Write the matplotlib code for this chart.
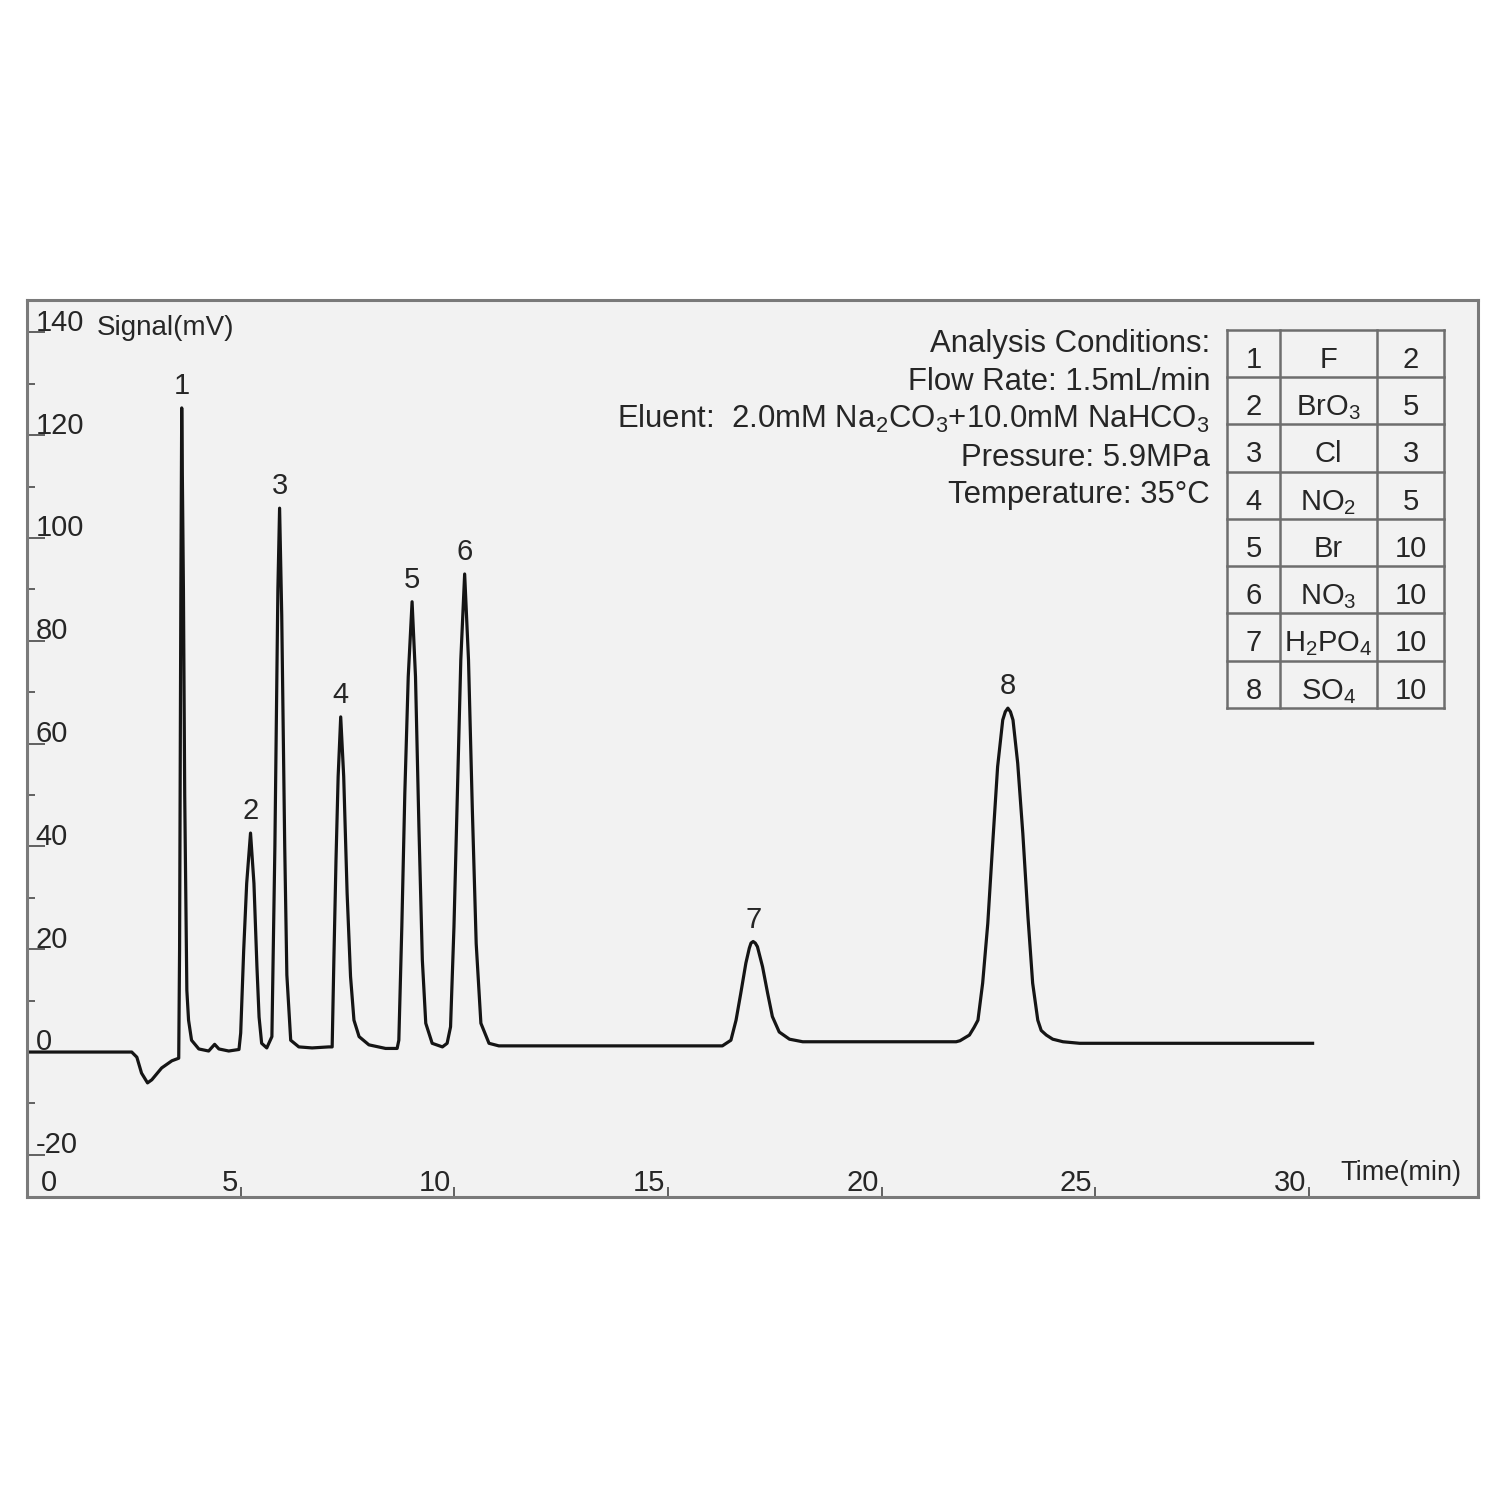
import matplotlib
matplotlib.use('Agg')
import matplotlib.pyplot as plt
from matplotlib import transforms

plt.rcParams['font.family'] = ['Liberation Sans', 'DejaVu Sans']
plt.rcParams['mathtext.fontset'] = 'custom'
plt.rcParams['mathtext.rm'] = 'Liberation Sans'
plt.rcParams['mathtext.it'] = 'Liberation Sans:italic'
plt.rcParams['mathtext.bf'] = 'Liberation Sans:bold'

# chromatogram trace (time in min, signal in mV)
time_min = [0.00, 2.45, 2.57, 2.68, 2.82, 2.92, 3.15, 3.39, 3.55,
            3.57, 3.60, 3.62, 3.66, 3.69, 3.74, 3.78, 3.85, 4.02, 4.25, 4.39, 4.49, 4.72, 4.96,
            5.00, 5.07, 5.14, 5.23, 5.31, 5.38, 5.43, 5.49, 5.61,
            5.73, 5.80, 5.87, 5.91, 5.96, 6.03, 6.08, 6.17, 6.36, 6.67, 7.06,
            7.14, 7.18, 7.23, 7.28, 7.34, 7.41, 7.49, 7.57, 7.65, 7.77, 8.00, 8.39, 8.66,
            8.70, 8.77, 8.84, 8.92, 9.01, 9.09, 9.17, 9.25, 9.33, 9.48, 9.72, 9.83,
            9.91, 9.99, 10.07, 10.15, 10.24, 10.33, 10.42, 10.51, 10.62, 10.81, 11.04,
            16.27, 16.47, 16.59, 16.70, 16.82, 16.90, 16.94, 16.99, 17.04, 17.09, 17.21,
            17.33, 17.44, 17.60, 17.84, 18.15, 18.70,
            21.74, 21.83, 22.05, 22.16, 22.25, 22.36, 22.48, 22.60, 22.71, 22.83, 22.89,
            22.95, 23.01, 23.07, 23.18, 23.30, 23.42, 23.53, 23.65, 23.73, 23.85, 24.00,
            24.24, 24.63, 30.08]
signal_mv = [0.0, 0.0, -1.0, -4.1, -6.0, -5.4, -3.1, -1.7, -1.2,
             20.0, 90.0, 125.3, 90.0, 50.0, 12.0, 6.2, 2.3, 0.6, 0.2, 1.5, 0.6, 0.2, 0.5,
             3.7, 19.8, 32.8, 42.6, 32.8, 16.6, 6.8, 1.7, 0.8,
             3.0, 40.0, 90.0, 105.8, 85.0, 40.0, 15.0, 2.3, 1.0, 0.8, 1.0,
             1.0, 17.9, 37.4, 53.6, 65.2, 53.6, 30.9, 14.7, 6.2, 3.0, 1.4, 0.7, 0.7,
             2.3, 24.4, 50.3, 73.0, 87.6, 73.0, 43.8, 17.9, 5.6, 1.7, 1.0, 1.7,
             4.9, 24.4, 50.3, 76.3, 93.0, 76.3, 47.1, 21.1, 5.6, 1.7, 1.2,
             1.2, 2.3, 6.2, 11.4, 17.3, 20.2, 21.2, 21.5, 21.2, 20.5, 16.6,
             11.4, 6.9, 3.9, 2.5, 2.0, 2.0,
             2.0, 2.2, 3.3, 4.8, 6.2, 13.4, 25.0, 41.2, 55.5, 64.6, 66.2,
             66.9, 66.2, 64.6, 56.2, 42.5, 26.3, 13.4, 6.2, 4.2, 3.3, 2.5,
             2.0, 1.7, 1.7]

# peak labels
peak_no = ['1', '2', '3', '4', '5', '6', '7', '8']
peak_rt = [3.62, 5.23, 5.91, 7.34, 9.01, 10.24, 16.99, 22.95]
peak_height = [125.3, 42.6, 105.8, 65.2, 87.6, 93.0, 21.5, 66.9]

# table of standards (peak, ion, concentration)
table_no = ['1', '2', '3', '4', '5', '6', '7', '8']
table_ion = ['F', 'BrO$_3$', 'Cl', 'NO$_2$', 'Br', 'NO$_3$', 'H$_2$PO$_4$', 'SO$_4$']
table_conc = ['2', '5', '3', '5', '10', '10', '10', '10']

conditions = ['Analysis Conditions:',
              'Flow Rate: 1.5mL/min',
              'Eluent:  2.0mM Na$_2$CO$_3$+10.0mM NaHCO$_3$',
              'Pressure: 5.9MPa',
              'Temperature: 35\u00b0C']

xtick_vals = [0, 5, 10, 15, 20, 25, 30]
ytick_vals = [-20, 0, 20, 40, 60, 80, 100, 120, 140]

txt = '#262626'
fs = 21

fig = plt.figure(figsize=(15, 15), dpi=100)
fig.patch.set_facecolor('white')
ax = fig.add_axes([27/1500, 1 - 1197/1500, 1451/1500, 897/1500])
ax.set_facecolor('#f2f2f2')

ax.plot(time_min, signal_mv, color='#151515', lw=2.3, solid_joinstyle='round')

ax.set_xlim(0, 33.95)
ax.set_ylim(-28.2, 146.3)

for s in ax.spines.values():
    s.set_color('#7a7a7a')
    s.set_linewidth(2.2)

ax.set_yticks(ytick_vals)
ax.set_yticks([-10, 10, 30, 50, 70, 90, 110, 130], minor=True)
ax.set_xticks(xtick_vals[1:])
ax.tick_params(axis='y', which='major', direction='in', length=13, width=1.3,
               color='#555555', labelleft=False)
ax.tick_params(axis='y', which='minor', direction='in', length=6, width=1.3,
               color='#555555')
ax.tick_params(axis='x', which='major', direction='in', length=7, width=1.3,
               color='#555555', labelbottom=False)

# tick labels sit on top of the ticks, like the original
yt = transforms.blended_transform_factory(ax.transAxes, ax.transData)
for v in ytick_vals:
    ax.text(0.006, v + 0.3, str(v), transform=yt, ha='left', va='baseline',
            fontsize=fs, color=txt)
xt = transforms.blended_transform_factory(ax.transData, ax.transAxes)
for v in xtick_vals:
    if v == 0:
        ax.text(0.32, 0.0067, '0', transform=xt, ha='left', va='baseline',
                fontsize=fs, color=txt)
    else:
        ax.text(v - 0.07, 0.0067, str(v), transform=xt, ha='right', va='baseline',
                fontsize=fs, color=txt)

ax.text(0.048, 139.5, 'Signal(mV)', transform=yt, ha='left', va='baseline',
        fontsize=20, color=txt)
ax.text(0.905, 0.019, 'Time(min)', transform=ax.transAxes, ha='left', va='baseline',
        fontsize=19.5, color=txt)

for n, rt, h in zip(peak_no, peak_rt, peak_height):
    ax.annotate(n, (rt, h), xytext=(0, 10), textcoords='offset points',
                ha='center', va='baseline', fontsize=fs, color=txt)

# analysis conditions
cond_y = [0.942, 0.900, 0.857, 0.815, 0.774]
for line, y in zip(conditions, cond_y):
    ax.text(0.8153, y, line, transform=ax.transAxes, ha='right', va='baseline',
            fontsize=22.4, color=txt)

# table
col_x = [0.827, 0.8636, 0.9304, 0.9766]
top, row_h = 0.9666, 0.05268
nrow = len(table_no)
bottom = top - nrow * row_h
for xx in col_x:
    ax.plot([xx, xx], [bottom, top], transform=ax.transAxes, color='#6e6e6e',
            lw=1.8, clip_on=False)
for i in range(nrow + 1):
    yy = top - i * row_h
    ax.plot([col_x[0], col_x[-1]], [yy, yy], transform=ax.transAxes, color='#6e6e6e',
            lw=1.8, clip_on=False)
for i in range(nrow):
    yc = top - (i + 0.5) * row_h
    for j, val in enumerate([table_no[i], table_ion[i], table_conc[i]]):
        xc = (col_x[j] + col_x[j + 1]) / 2
        ax.text(xc, yc - 0.016, val, transform=ax.transAxes, ha='center', va='baseline',
                fontsize=fs, color=txt)

fig.savefig('out.png', dpi=100, facecolor='white')
